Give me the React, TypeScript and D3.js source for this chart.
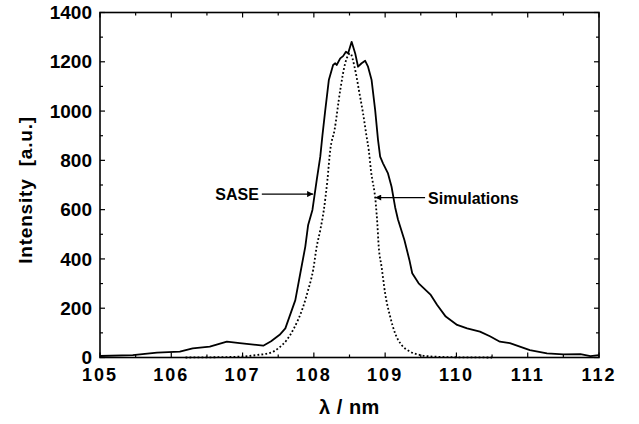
import React from "react";
import * as d3 from "d3";

// measured SASE spectrum (wavelength nm, intensity a.u.)
const saseLambda = [
  105.0, 105.46, 105.8, 106.12, 106.3, 106.54, 106.78, 106.96, 107.29, 107.4, 107.52, 107.6,
  107.74, 107.81, 107.88, 107.92, 107.98, 108.04, 108.09, 108.12, 108.16, 108.21, 108.27,
  108.3, 108.32, 108.37, 108.41, 108.45, 108.48, 108.53, 108.58, 108.62, 108.67, 108.72,
  108.76, 108.81, 108.86, 108.9, 108.93, 108.97, 109.04, 109.09, 109.14, 109.18, 109.27,
  109.34, 109.38, 109.47, 109.64, 109.73, 109.85, 110.01, 110.15, 110.33, 110.47, 110.61,
  110.75, 110.89, 111.03, 111.27, 111.5, 111.74, 111.88, 112.0,
];
const saseIntensity = [
  6, 10, 20, 24, 37, 44, 64, 58, 48, 66, 92, 118,
  233, 342, 450, 538, 599, 720, 815, 900, 1004, 1126, 1187,
  1194, 1187, 1214, 1223, 1241, 1234, 1281, 1234, 1180, 1194, 1204,
  1180, 1126, 1004, 883, 815, 788, 747, 693, 610, 560, 477,
  396, 342, 301, 254, 213, 166, 132, 118, 105, 86, 64,
  58, 44, 30, 17, 13, 14, 6, 10,
];

// simulated spectrum
const simLambda = [
  106.2, 106.6, 107.0, 107.2, 107.4, 107.5, 107.62, 107.72, 107.85, 107.92, 107.99, 108.04,
  108.09, 108.14, 108.19, 108.23, 108.29, 108.37, 108.44, 108.51, 108.57, 108.64, 108.69,
  108.74, 108.77, 108.8, 108.87, 108.89, 108.91, 108.95, 109.0, 109.07, 109.14, 109.23,
  109.35, 109.49, 109.72, 110.0, 110.5,
];
const simIntensity = [
  0, 1, 4, 10, 20, 37, 71, 118, 206, 274, 355, 450,
  517, 599, 720, 842, 923, 1085, 1194, 1234, 1180, 1072, 991,
  896, 842, 761, 620, 545, 450, 368, 260, 166, 98, 51,
  24, 10, 3, 1, 0,
];

const xMajor = [105, 106, 107, 108, 109, 110, 111, 112];
const xMinor = [105.5, 106.5, 107.5, 108.5, 109.5, 110.5, 111.5];
const yMajor = [0, 200, 400, 600, 800, 1000, 1200, 1400];
const yMinor = [100, 300, 500, 700, 900, 1100, 1300];

// annotation arrows: [label, tail lambda, tip lambda, intensity]
const annotations = [
  { label: "SASE", from: 107.27, to: 107.99, at: 663, side: "left" },
  { label: "Simulations", from: 109.56, to: 108.86, at: 649, side: "right" },
];

const W = 639;
const H = 424;
const left = 100;
const right = 599;
const top = 12.5;
const bottom = 357.5;
const font = "'Liberation Sans', Arial, Helvetica, sans-serif";

export default function App() {
  const x = d3.scaleLinear().domain([105, 112]).range([left, right]);
  const y = d3.scaleLinear().domain([0, 1400]).range([bottom, top]);

  const sase = saseLambda.map((l, i) => [l, saseIntensity[i]] as [number, number]);
  const sim = simLambda.map((l, i) => [l, simIntensity[i]] as [number, number]);

  const line = d3
    .line<[number, number]>()
    .x((d) => x(d[0]))
    .y((d) => y(d[1]));
  const smooth = line.curve(d3.curveMonotoneX);
  const saseLine = d3
    .line<[number, number]>()
    .x((d) => x(d[0]))
    .y((d) => y(d[1]));

  const majorLen = 5;
  const minorLen = 3;

  return (
    <svg
      width={W}
      height={H}
      style={{ position: "absolute", left: 0, top: 0, background: "#fff" }}
    >
      <defs>
        <marker
          id="arrow"
          viewBox="0 0 10 10"
          refX="10"
          refY="5"
          markerWidth="8"
          markerHeight="6"
          markerUnits="userSpaceOnUse"
          orient="auto"
        >
          <path d="M0,0L10,5L0,10z" fill="#000" />
        </marker>
      </defs>

      {/* curves */}
      <path d={smooth(sim) || ""} fill="none" stroke="#000" strokeWidth={1.8} strokeDasharray="1.8 2.2" />
      <path d={saseLine(sase) || ""} fill="none" stroke="#000" strokeWidth={1.8} strokeLinejoin="round" />

      {/* frame */}
      <rect x={left} y={top} width={right - left} height={bottom - top} fill="none" stroke="#000" strokeWidth={1.6} />

      {/* ticks, pointing inward on all sides */}
      <g stroke="#000" strokeWidth={1.2}>
        {xMajor.concat(xMinor).map((t) => {
          const len = xMajor.includes(t) ? majorLen : minorLen;
          return (
            <g key={"x" + t}>
              <line x1={x(t)} x2={x(t)} y1={bottom} y2={bottom - len} />
              <line x1={x(t)} x2={x(t)} y1={top} y2={top + len} />
            </g>
          );
        })}
        {yMajor.concat(yMinor).map((t) => {
          const len = yMajor.includes(t) ? majorLen : minorLen;
          return (
            <g key={"y" + t}>
              <line x1={left} x2={left + len} y1={y(t)} y2={y(t)} />
              <line x1={right} x2={right - len} y1={y(t)} y2={y(t)} />
            </g>
          );
        })}
      </g>

      {/* tick labels */}
      <g fontFamily={font} fontWeight="bold" fill="#000">
        {xMajor.map((t) => (
          <text key={t} x={x(t)} y={381} textAnchor="middle" fontSize={18} letterSpacing={2}>
            {t}
          </text>
        ))}
        {yMajor.map((t) => (
          <text key={t} x={left - 8} y={y(t) + 6.6} textAnchor="end" fontSize={19}>
            {t}
          </text>
        ))}
      </g>

      {/* axis titles */}
      <text
        x={(left + right) / 2}
        y={414}
        textAnchor="middle"
        fontFamily={font}
        fontWeight="bold"
        fontSize={20}
        letterSpacing={0.5}
      >
        λ / nm
      </text>
      <text
        transform={`translate(32,190) rotate(-90)`}
        textAnchor="middle"
        fontFamily={font}
        fontWeight="bold"
        fontSize={19}
        letterSpacing={0.8}
        style={{ whiteSpace: "pre" }}
      >
        {"Intensity  [a.u.]"}
      </text>

      {/* annotations */}
      {annotations.map((a) => (
        <g key={a.label}>
          <line
            x1={x(a.from)}
            x2={x(a.to)}
            y1={y(a.at)}
            y2={y(a.at)}
            stroke="#000"
            strokeWidth={1.2}
            markerEnd="url(#arrow)"
          />
          <text
            x={a.side === "left" ? x(a.from) - 3 : x(a.from) + 3}
            y={y(a.at) + 6}
            textAnchor={a.side === "left" ? "end" : "start"}
            fontFamily={font}
            fontWeight="bold"
            fontSize={16}
          >
            {a.label}
          </text>
        </g>
      ))}
    </svg>
  );
}
